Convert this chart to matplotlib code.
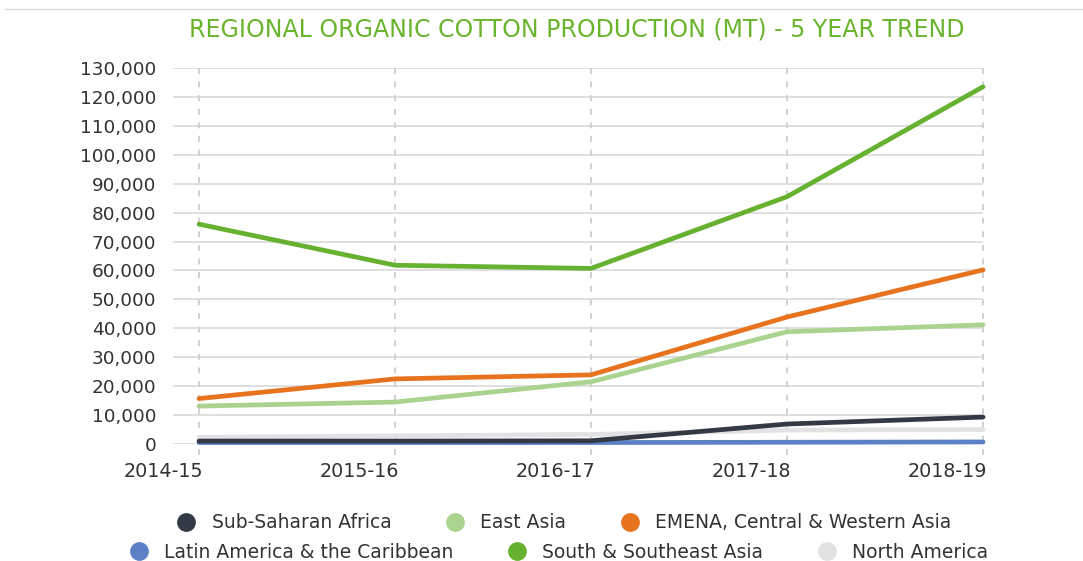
import matplotlib
matplotlib.use("Agg")
import matplotlib.pyplot as plt
from matplotlib.lines import Line2D
from matplotlib.ticker import FuncFormatter
from matplotlib.transforms import ScaledTranslation

# Data (MT)
years = ["2014-15", "2015-16", "2016-17", "2017-18", "2018-19"]
sub_saharan = [1000, 1000, 1100, 6900, 9300]
east_asia = [13100, 14500, 21500, 38800, 41200]
emena = [15700, 22500, 23900, 43900, 60200]
latin_america = [500, 500, 500, 600, 700]
south_se_asia = [76000, 61800, 60700, 85500, 123500]
north_america = [2300, 2800, 3300, 4800, 5000]

series = [
    ("Sub-Saharan Africa", sub_saharan, "#333a45"),
    ("East Asia", east_asia, "#a9d38f"),
    ("EMENA, Central & Western Asia", emena, "#e8731e"),
    ("Latin America & the Caribbean", latin_america, "#5b80c6"),
    ("South & Southeast Asia", south_se_asia, "#67b130"),
    ("North America", north_america, "#e2e2e2"),
]
draw_order = [5, 3, 0, 1, 2, 4]

plt.rcParams['font.family'] = ['DejaVu Sans']

fig = plt.figure(figsize=(10.83, 5.61), dpi=100)
ax = fig.add_axes([0.1597, 0.2086, 0.748, 0.6702])

x = list(range(len(years)))
handles = {}
for z, i in enumerate(draw_order):
    name, vals, col = series[i]
    ax.plot(x, vals, color=col, lw=3.4, solid_capstyle='round',
            solid_joinstyle='round', clip_on=False, zorder=3 + z)
    handles[i] = Line2D([], [], marker='o', ls='none', markersize=12.5,
                        markerfacecolor=col, markeredgecolor=col, label=name)

ax.set_xlim(-0.133, 4)
ax.set_ylim(0, 130000)
ax.set_yticks(range(0, 130001, 10000))
ax.yaxis.set_major_formatter(FuncFormatter(lambda v, p: f"{int(v):,}"))
ax.set_xticks(x)
ax.set_xticklabels(years, ha='right')

ax.grid(axis='y', color='#d9d9d9', lw=1.2)
ax.set_axisbelow(True)
ax.vlines(x, -0.03, 1, transform=ax.get_xaxis_transform(), colors='#d0d0d0',
          linestyles=(0, (3, 4)), lw=1.4, clip_on=False, zorder=1)

for s in ax.spines.values():
    s.set_visible(False)
ax.tick_params(axis='both', length=0, colors='#333333')
ax.tick_params(axis='y', pad=12, labelsize=13.3)
ax.tick_params(axis='x', pad=13, labelsize=13.8)
for lbl in ax.get_xticklabels():
    lbl.set_transform(lbl.get_transform() + ScaledTranslation(4 / 100, 0, fig.dpi_scale_trans))

fig.text(0.533, 0.947, "REGIONAL ORGANIC COTTON PRODUCTION (MT) - 5 YEAR TREND",
         ha='center', va='center', fontsize=17, color='#6ab42d')
fig.lines.append(Line2D([0.005, 1], [0.984, 0.984], transform=fig.transFigure,
                        color='#dddddd', lw=1))

leg_kw = dict(ncol=3, frameon=False, fontsize=13.5, handletextpad=0.85,
              columnspacing=2.9, handlelength=1.0, labelcolor='#333333')
leg1 = fig.legend(handles=[handles[0], handles[1], handles[2]],
                  loc='center', bbox_to_anchor=(0.521, 0.068), **leg_kw)
leg2 = fig.legend(handles=[handles[3], handles[4], handles[5]],
                  loc='center', bbox_to_anchor=(0.516, 0.016), **leg_kw)

fig.savefig("out.png", dpi=100)
